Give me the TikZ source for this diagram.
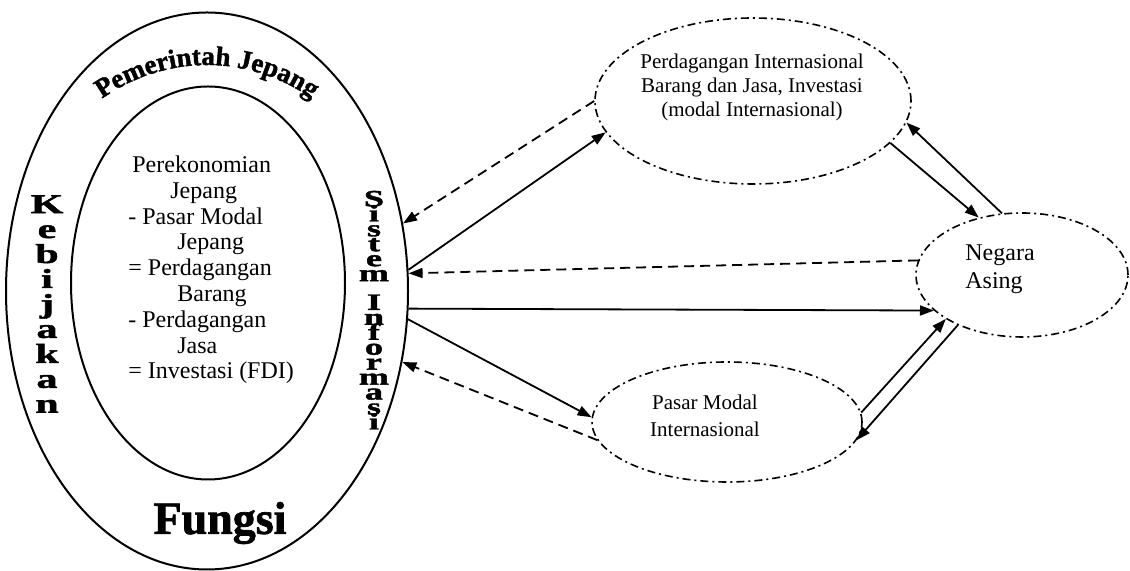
\documentclass[tikz,border=0pt]{standalone}
\usepackage{fontspec}
\setmainfont{Liberation Serif}
\newfontfamily\heavyfont{Liberation Serif}[BoldFeatures={FakeBold=1.5}]
\usetikzlibrary{shapes.geometric,arrows.meta,decorations.text}
\tikzset{
  solidarrow/.style={-{Triangle[length=7pt,width=5pt]},line width=0.9pt},
  dasharrow/.style={solidarrow,dash pattern=on 5pt off 3pt},
  ovalbox/.style={draw,ellipse,inner sep=0pt,line width=0.8pt,dash pattern=on 4pt off 2pt on 1pt off 2pt},
  ringline/.style={draw,ellipse,inner sep=0pt,line width=1pt},
  vword/.style={align=center,inner sep=0pt,yscale=0.65}
}
\begin{document}
\begin{tikzpicture}[x=0.5pt,y=0.5pt]
  \useasboundingbox (0,0) rectangle (1130,571);
  \node[ringline,minimum width=201pt,minimum height=278.5pt] (outer) at (207,280) {};
  \node[ringline,minimum width=137pt,minimum height=196.5pt] (inner) at (208,288) {};
  \path[decorate,decoration={text along path,text align=center,
      text={|\heavyfont\bfseries\fontsize{13.5}{13.5}\selectfont|Pemerintah Jepang}}]
    (207,280) ++(127:200 and 226) arc[start angle=127,end angle=53,x radius=200,y radius=226];
  \node[vword,font={\heavyfont\bfseries\fontsize{21}{19.2}\selectfont}] (kebijakan) at (47,267)
    {K\\e\\b\\i\\j\\a\\k\\a\\n};
  \node[vword,font={\heavyfont\bfseries\fontsize{18}{11.5}\selectfont\lineskiplimit=-20pt}] (sistem) at (374,335)
    {S\\i\\s\\t\\e\\m};
  \node[vword,font={\heavyfont\bfseries\fontsize{18}{11.5}\selectfont\lineskiplimit=-20pt}] (informasi) at (374,209)
    {I\\n\\f\\o\\r\\m\\a\\s\\i};
  \node[font={\heavyfont\bfseries\fontsize{23}{23}\selectfont}] (fungsi) at (220,48) {Fungsi};
  \node[align=left,anchor=west,inner sep=0pt,font={\fontsize{12}{12.9}\selectfont}] (economy) at (128,301)
    {\hspace*{2pt}Perekonomian\\ \hspace*{21pt}Jepang\\ - Pasar Modal\\ \hspace*{24.5pt}Jepang\\
     = Perdagangan\\ \hspace*{24.5pt}Barang\\ - Perdagangan\\ \hspace*{24.5pt}Jasa\\ = Investasi (FDI)};
  % partner side
  \node[ovalbox,minimum width=158pt,minimum height=83pt] (trade) at (753,470) {};
  \node[align=center,font={\fontsize{10.5}{12}\selectfont}] (tradetext) at (752,484)
    {Perdagangan Internasional\\Barang dan Jasa, Investasi\\(modal Internasional)};
  \node[ovalbox,minimum width=106pt,minimum height=62pt] (foreign) at (1022,296) {};
  \node[align=left,font={\fontsize{12}{14}\selectfont}] (foreigntext) at (1000,302) {Negara\\Asing};
  \node[ovalbox,minimum width=135pt,minimum height=60pt] (capital) at (727,149) {};
  \node[align=center,font={\fontsize{10.5}{13.5}\selectfont}] (capitaltext) at (705,155) {Pasar Modal\\Internasional};
  % flows
  \draw[dasharrow] (trade.180) to (outer.19);
  \draw[solidarrow] (outer.6) to (trade.192);
  \draw[dasharrow] (foreign.172) to (outer.5);
  \draw[solidarrow] (outer.355) to (foreign.202);
  \draw[solidarrow] (outer.352) to (capital.178);
  \draw[dasharrow] (capital.188) to (outer.340);
  \draw[solidarrow] (trade.343) to (foreign.127);
  \draw[solidarrow] (foreign.108) to (trade.352);
  \draw[solidarrow] (capital.4) to (foreign.210);
  \draw[solidarrow] (foreign.218) to (capital.352);
\end{tikzpicture}
\end{document}
